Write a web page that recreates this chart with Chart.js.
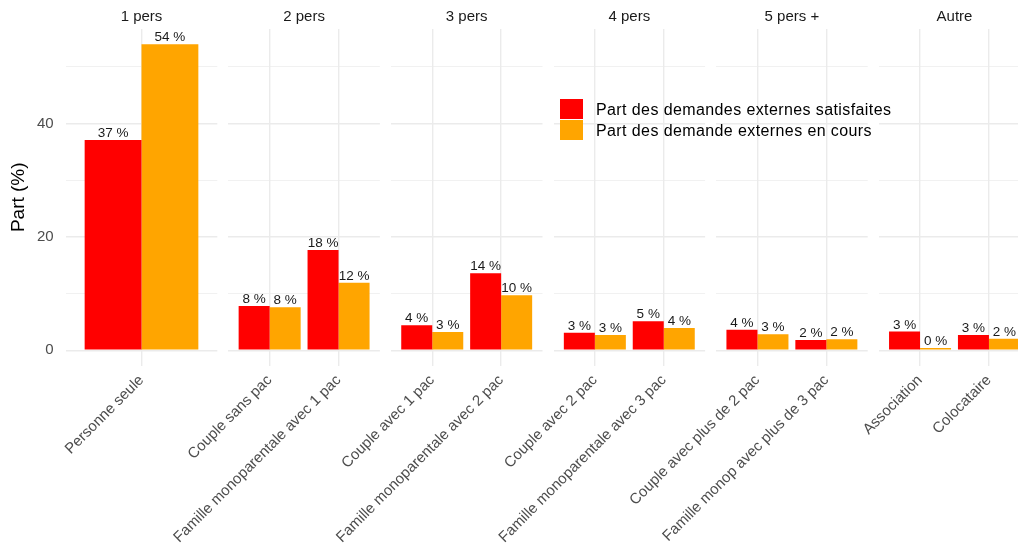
<!DOCTYPE html>
<html lang="fr">
<head>
<meta charset="utf-8">
<script src="https://cdn.jsdelivr.net/npm/chart.js@4"></script>
<style>
  body { margin: 0; background: #fff; }
  #cadre { position: relative; width: 1018px; height: 544px; overflow: hidden; font-family: "Liberation Sans", Arial, sans-serif; }
  #cadre canvas { position: absolute; left: 0; top: 0; }
  #legende { position: absolute; left: 560px; top: 99px; font-size: 16px; letter-spacing: 0.4px; color: #000; }
  .item { display: flex; align-items: center; height: 20px; margin-bottom: 1px; }
  .cle { width: 23px; height: 20px; margin-right: 13px; }
  .item span { position: relative; top: 1px; }
</style>
</head>
<body>
<div id="cadre">
  <div id="legende"></div>
</div>
<script>
  // Données
  var groupes = ['1 pers', '2 pers', '3 pers', '4 pers', '5 pers +', 'Autre'];
  var categories = ['Personne seule', 'Couple sans pac', 'Famille monoparentale avec 1 pac',
    'Couple avec 1 pac', 'Famille monoparentale avec 2 pac', 'Couple avec 2 pac',
    'Famille monoparentale avec 3 pac', 'Couple avec plus de 2 pac', 'Famille monop avec plus de 3 pac',
    'Association', 'Colocataire'];
  var groupeCategorie = [0, 1, 1, 2, 2, 3, 3, 4, 4, 5, 5];
  var satisfaites = [37.1, 7.8, 17.7, 4.4, 13.6, 3.1, 5.1, 3.6, 1.8, 3.3, 2.7];
  var enCours = [54.0, 7.6, 11.9, 3.2, 9.7, 2.7, 3.9, 2.8, 1.95, 0.4, 2.0];
  var seriesNoms = ['Part des demandes externes satisfaites', 'Part des demande externes en cours'];
  var couleurs = ['#FF0000', '#FFA500'];
  var yTicks = [0, 20, 40];

  Chart.defaults.font.family = '"Liberation Sans", Arial, sans-serif';

  // Position des facettes
  var gauche0 = 65.7, pas = 162.6, largeur = 151.6;
  var basZone = 365.5;
  var largeurCanvas = 1040;

  // Etiquettes au-dessus des barres
  var etiquettes = {
    id: 'etiquettes',
    afterDatasetsDraw: function (chart) {
      var ctx = chart.ctx;
      ctx.save();
      ctx.font = '13.5px "Liberation Sans", Arial, sans-serif';
      ctx.fillStyle = '#1a1a1a';
      ctx.textAlign = 'center';
      ctx.textBaseline = 'alphabetic';
      chart.data.datasets.forEach(function (ds, i) {
        chart.getDatasetMeta(i).data.forEach(function (barre, j) {
          ctx.fillText(Math.round(ds.data[j]) + ' %', barre.x, barre.y - 3);
        });
      });
      ctx.restore();
    }
  };

  var cadre = document.getElementById('cadre');

  groupes.forEach(function (g, k) {
    var idx = [];
    groupeCategorie.forEach(function (gc, i) { if (gc === k) idx.push(i); });
    var n = idx.length;
    var premier = k === 0;
    var gauche = gauche0 + k * pas;

    var canvas = document.createElement('canvas');
    canvas.width = largeurCanvas;
    canvas.height = 544;
    cadre.insertBefore(canvas, document.getElementById('legende'));

    new Chart(canvas, {
      type: 'bar',
      data: {
        labels: idx.map(function (i) { return categories[i]; }),
        datasets: [
          { label: seriesNoms[0], data: idx.map(function (i) { return satisfaites[i]; }), backgroundColor: couleurs[0] },
          { label: seriesNoms[1], data: idx.map(function (i) { return enCours[i]; }), backgroundColor: couleurs[1] }
        ]
      },
      options: {
        responsive: false,
        animation: false,
        events: [],
        layout: { padding: { left: premier ? 0 : gauche, right: largeurCanvas - gauche - largeur, top: 0, bottom: 0 } },
        datasets: { bar: { barPercentage: 1, categoryPercentage: n === 1 ? 0.75 : 0.9, borderWidth: 0 } },
        plugins: {
          legend: { display: false },
          tooltip: { enabled: false },
          title: {
            display: true, text: g, fullSize: false, color: '#1a1a1a',
            font: { size: 15, weight: 'normal' }, padding: { top: 8, bottom: 3 }
          }
        },
        scales: {
          x: {
            grid: { color: '#EBEBEB', lineWidth: 1.4, offset: false, drawTicks: false },
            border: { display: false },
            ticks: { color: '#4D4D4D', font: { size: 15 }, minRotation: 45, maxRotation: 45, autoSkip: false, padding: 6 },
            // expansion ggplot : 0.6 unité de chaque côté
            afterBuildTicks: function (s) { s._startValue = -0.6; s._valueRange = n + 0.2; },
            afterFit: function (s) { s.height = 544 - basZone; }
          },
          y: {
            min: -2.7,
            max: 56.7,
            grid: {
              color: '#EBEBEB', drawTicks: false,
              lineWidth: function (c) { return c.tick && c.tick.value % 20 === 0 ? 1.4 : 0.7; }
            },
            border: { display: false },
            ticks: {
              display: premier, stepSize: 10, includeBounds: false, color: '#4D4D4D',
              font: { size: 15 }, padding: 12,
              callback: function (v) { return yTicks.indexOf(v) >= 0 ? v : ''; }
            },
            title: { display: premier, text: 'Part (%)', color: '#000', font: { size: 19 }, padding: { top: 7, bottom: 0 } },
            afterFit: function (s) { s.width = premier ? gauche : 0; }
          }
        }
      },
      plugins: [etiquettes]
    });
  });

  // Légende
  var legende = document.getElementById('legende');
  seriesNoms.forEach(function (nom, i) {
    var item = document.createElement('div');
    item.className = 'item';
    var cle = document.createElement('div');
    cle.className = 'cle';
    cle.style.background = couleurs[i];
    var texte = document.createElement('span');
    texte.textContent = nom;
    item.appendChild(cle);
    item.appendChild(texte);
    legende.appendChild(item);
  });
</script>
</body>
</html>
